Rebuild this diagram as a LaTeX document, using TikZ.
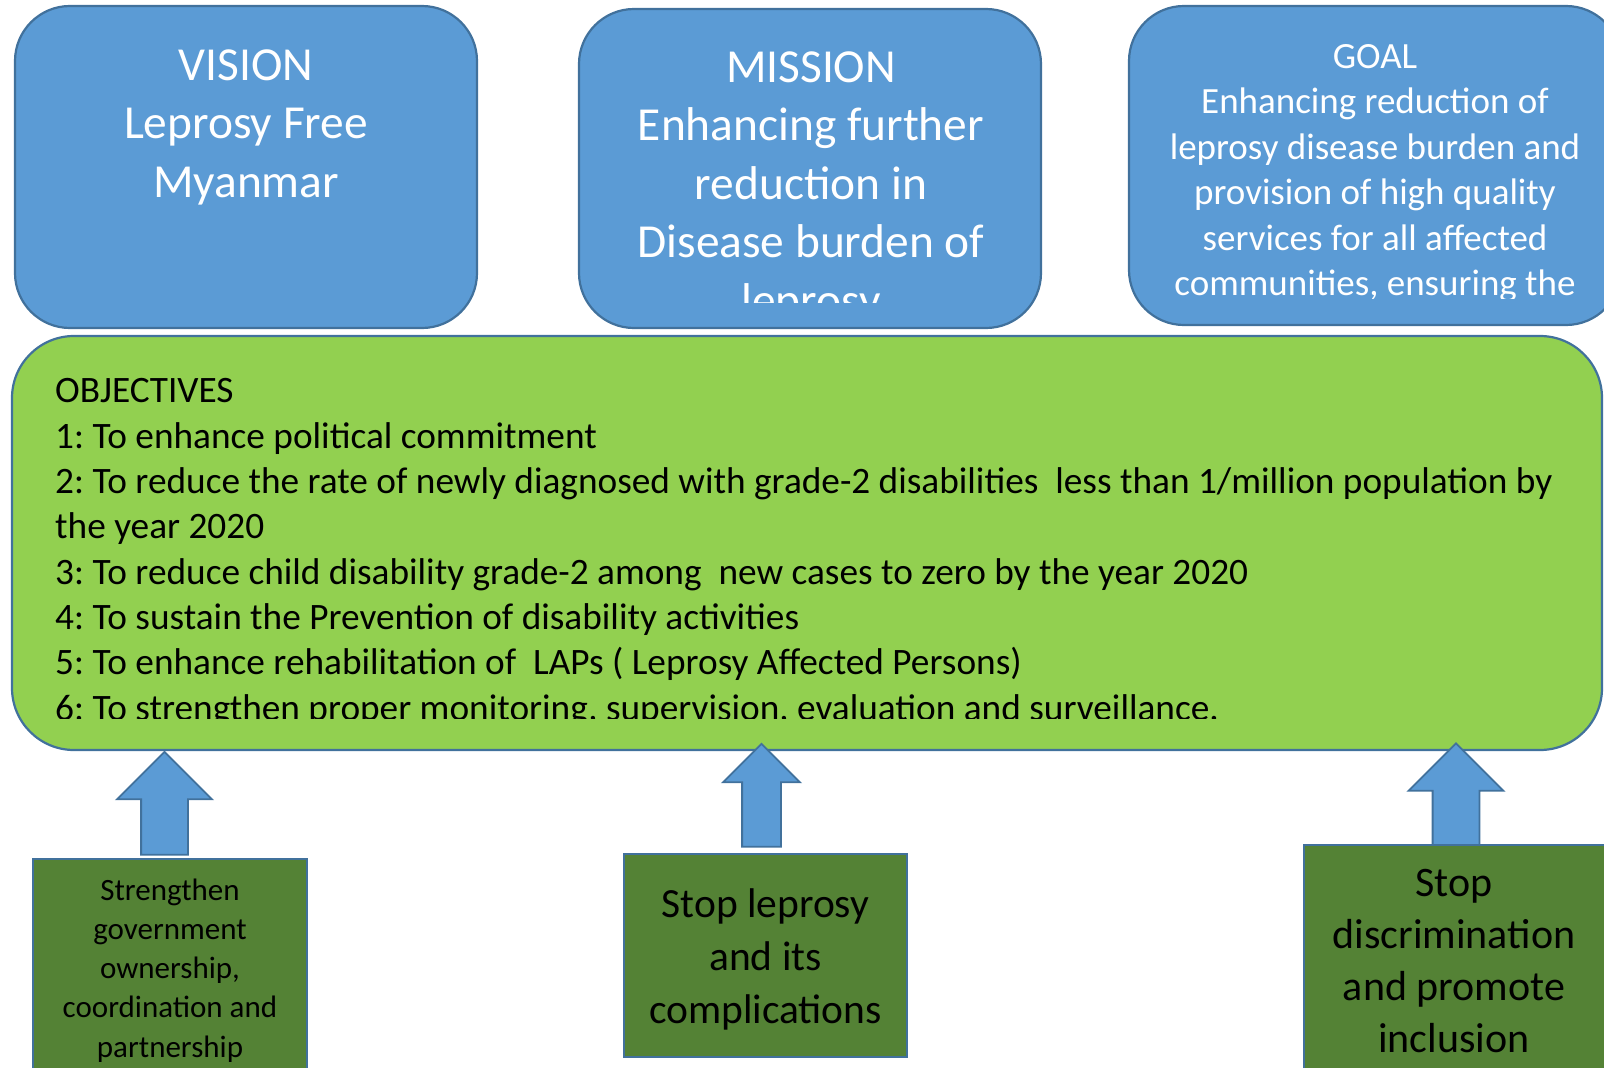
\documentclass[tikz,border=0pt]{standalone}
\usepackage{fontspec}
\setmainfont{Carlito}
\usepackage{tikz}
\usetikzlibrary{shapes.arrows}
\frenchspacing

\definecolor{boxblue}{HTML}{5B9BD5}
\definecolor{edgeblue}{HTML}{41719C}
\definecolor{objgreen}{HTML}{92D050}
\definecolor{pillargreen}{HTML}{548235}

\tikzset{
  topbox/.style={draw=edgeblue, fill=boxblue, line width=2.2pt, rounded corners=55pt, inner sep=0pt},
  objbox/.style={draw=edgeblue, fill=objgreen, line width=2.2pt, rounded corners=62pt, inner sep=0pt},
  pillarbox/.style={draw=edgeblue, fill=pillargreen, line width=2pt, inner sep=0pt},
  uparrow/.style={single arrow, shape border rotate=90, draw=edgeblue, fill=boxblue, line width=1.8pt, inner ysep=0pt},
  toptext/.style={text=white, align=center, inner sep=0pt, anchor=base},
  bottext/.style={text=black, align=center, inner sep=0pt, anchor=base}
}

\begin{document}
\begin{tikzpicture}[x=1pt, y=-1pt]
\useasboundingbox (0,0) rectangle (1604,1068);

% Top row
\node[topbox, minimum width=462pt, minimum height=322pt] (vision) at (246,167) {};
\node[topbox, minimum width=462pt, minimum height=319pt] (mission) at (810,168.5) {};
\node[topbox, minimum width=492pt, minimum height=319pt] (goal) at (1375,165.5) {};

% base anchor sits on the last line
\node[toptext, font=\fontsize{47.4}{58.5}\selectfont] (visiontxt) at (246,197) {VISION\\Leprosy Free\\Myanmar};
\begin{scope}
\clip (579,9) rectangle (1041,302);
\node[toptext, font=\fontsize{47.4}{58.5}\selectfont] (missiontxt) at (811,316) {MISSION\\Enhancing further\\reduction in\\Disease burden of\\leprosy};
\end{scope}
\begin{scope}
\clip (1129,6) rectangle (1604,298);
\node[toptext, font=\fontsize{37}{45.5}\selectfont] (goaltxt) at (1375,295.5) {GOAL\\Enhancing reduction of\\leprosy disease burden and\\provision of high quality\\services for all affected\\communities, ensuring the};
\end{scope}

% Objectives
\node[objbox, minimum width=1590pt, minimum height=414pt] (objectives) at (807,543) {};
\begin{scope}
\clip (20,340) rectangle (1590,718);
\node[bottext, align=left, font=\fontsize{37.3}{45.3}\selectfont, anchor=base west] (objtxt) at (55,720) {OBJECTIVES\\
1: To enhance political commitment\\
2: To reduce the rate of newly diagnosed with grade-2 disabilities\ \ less than 1/million population by\\
the year 2020\\
3: To reduce child disability grade-2 among\ \ new cases to zero by the year 2020\\
4: To sustain the Prevention of disability activities\\
5: To enhance rehabilitation of\ \ LAPs ( Leprosy Affected Persons)\\
6: To strengthen proper monitoring, supervision, evaluation and surveillance.};
\end{scope}

% Arrows
\node[uparrow, minimum height=103pt, minimum width=93pt, inner xsep=22.5pt, single arrow head extend=24pt] (arrL) at (164.5,815) {};
\node[uparrow, minimum height=103pt, minimum width=75pt, inner xsep=18.5pt, single arrow head extend=19pt] (arrM) at (761.5,805) {};
\node[uparrow, minimum height=102pt, minimum width=93pt, inner xsep=22.5pt, single arrow head extend=24pt] (arrR) at (1456,806) {};

% Bottom row
\node[pillarbox, minimum width=274pt, minimum height=240pt] (ownership) at (170,979) {};
\node[pillarbox, minimum width=283pt, minimum height=203pt] (stopleprosy) at (765.5,955.5) {};
\node[pillarbox, minimum width=306pt, minimum height=255pt] (inclusion) at (1457,972.5) {};

\node[bottext, font=\fontsize{31}{39.2}\selectfont] (ownershiptxt) at (170,1057) {Strengthen\\government\\ownership,\\coordination and\\partnership};
\node[bottext, font=\fontsize{41.5}{53}\selectfont] (stopleptxt) at (765.5,1023) {Stop leprosy\\and its\\complications};
\node[bottext, font=\fontsize{42}{51.7}\selectfont] (inclusiontxt) at (1454,1052) {Stop\\discrimination\\and promote\\inclusion};

\end{tikzpicture}
\end{document}
